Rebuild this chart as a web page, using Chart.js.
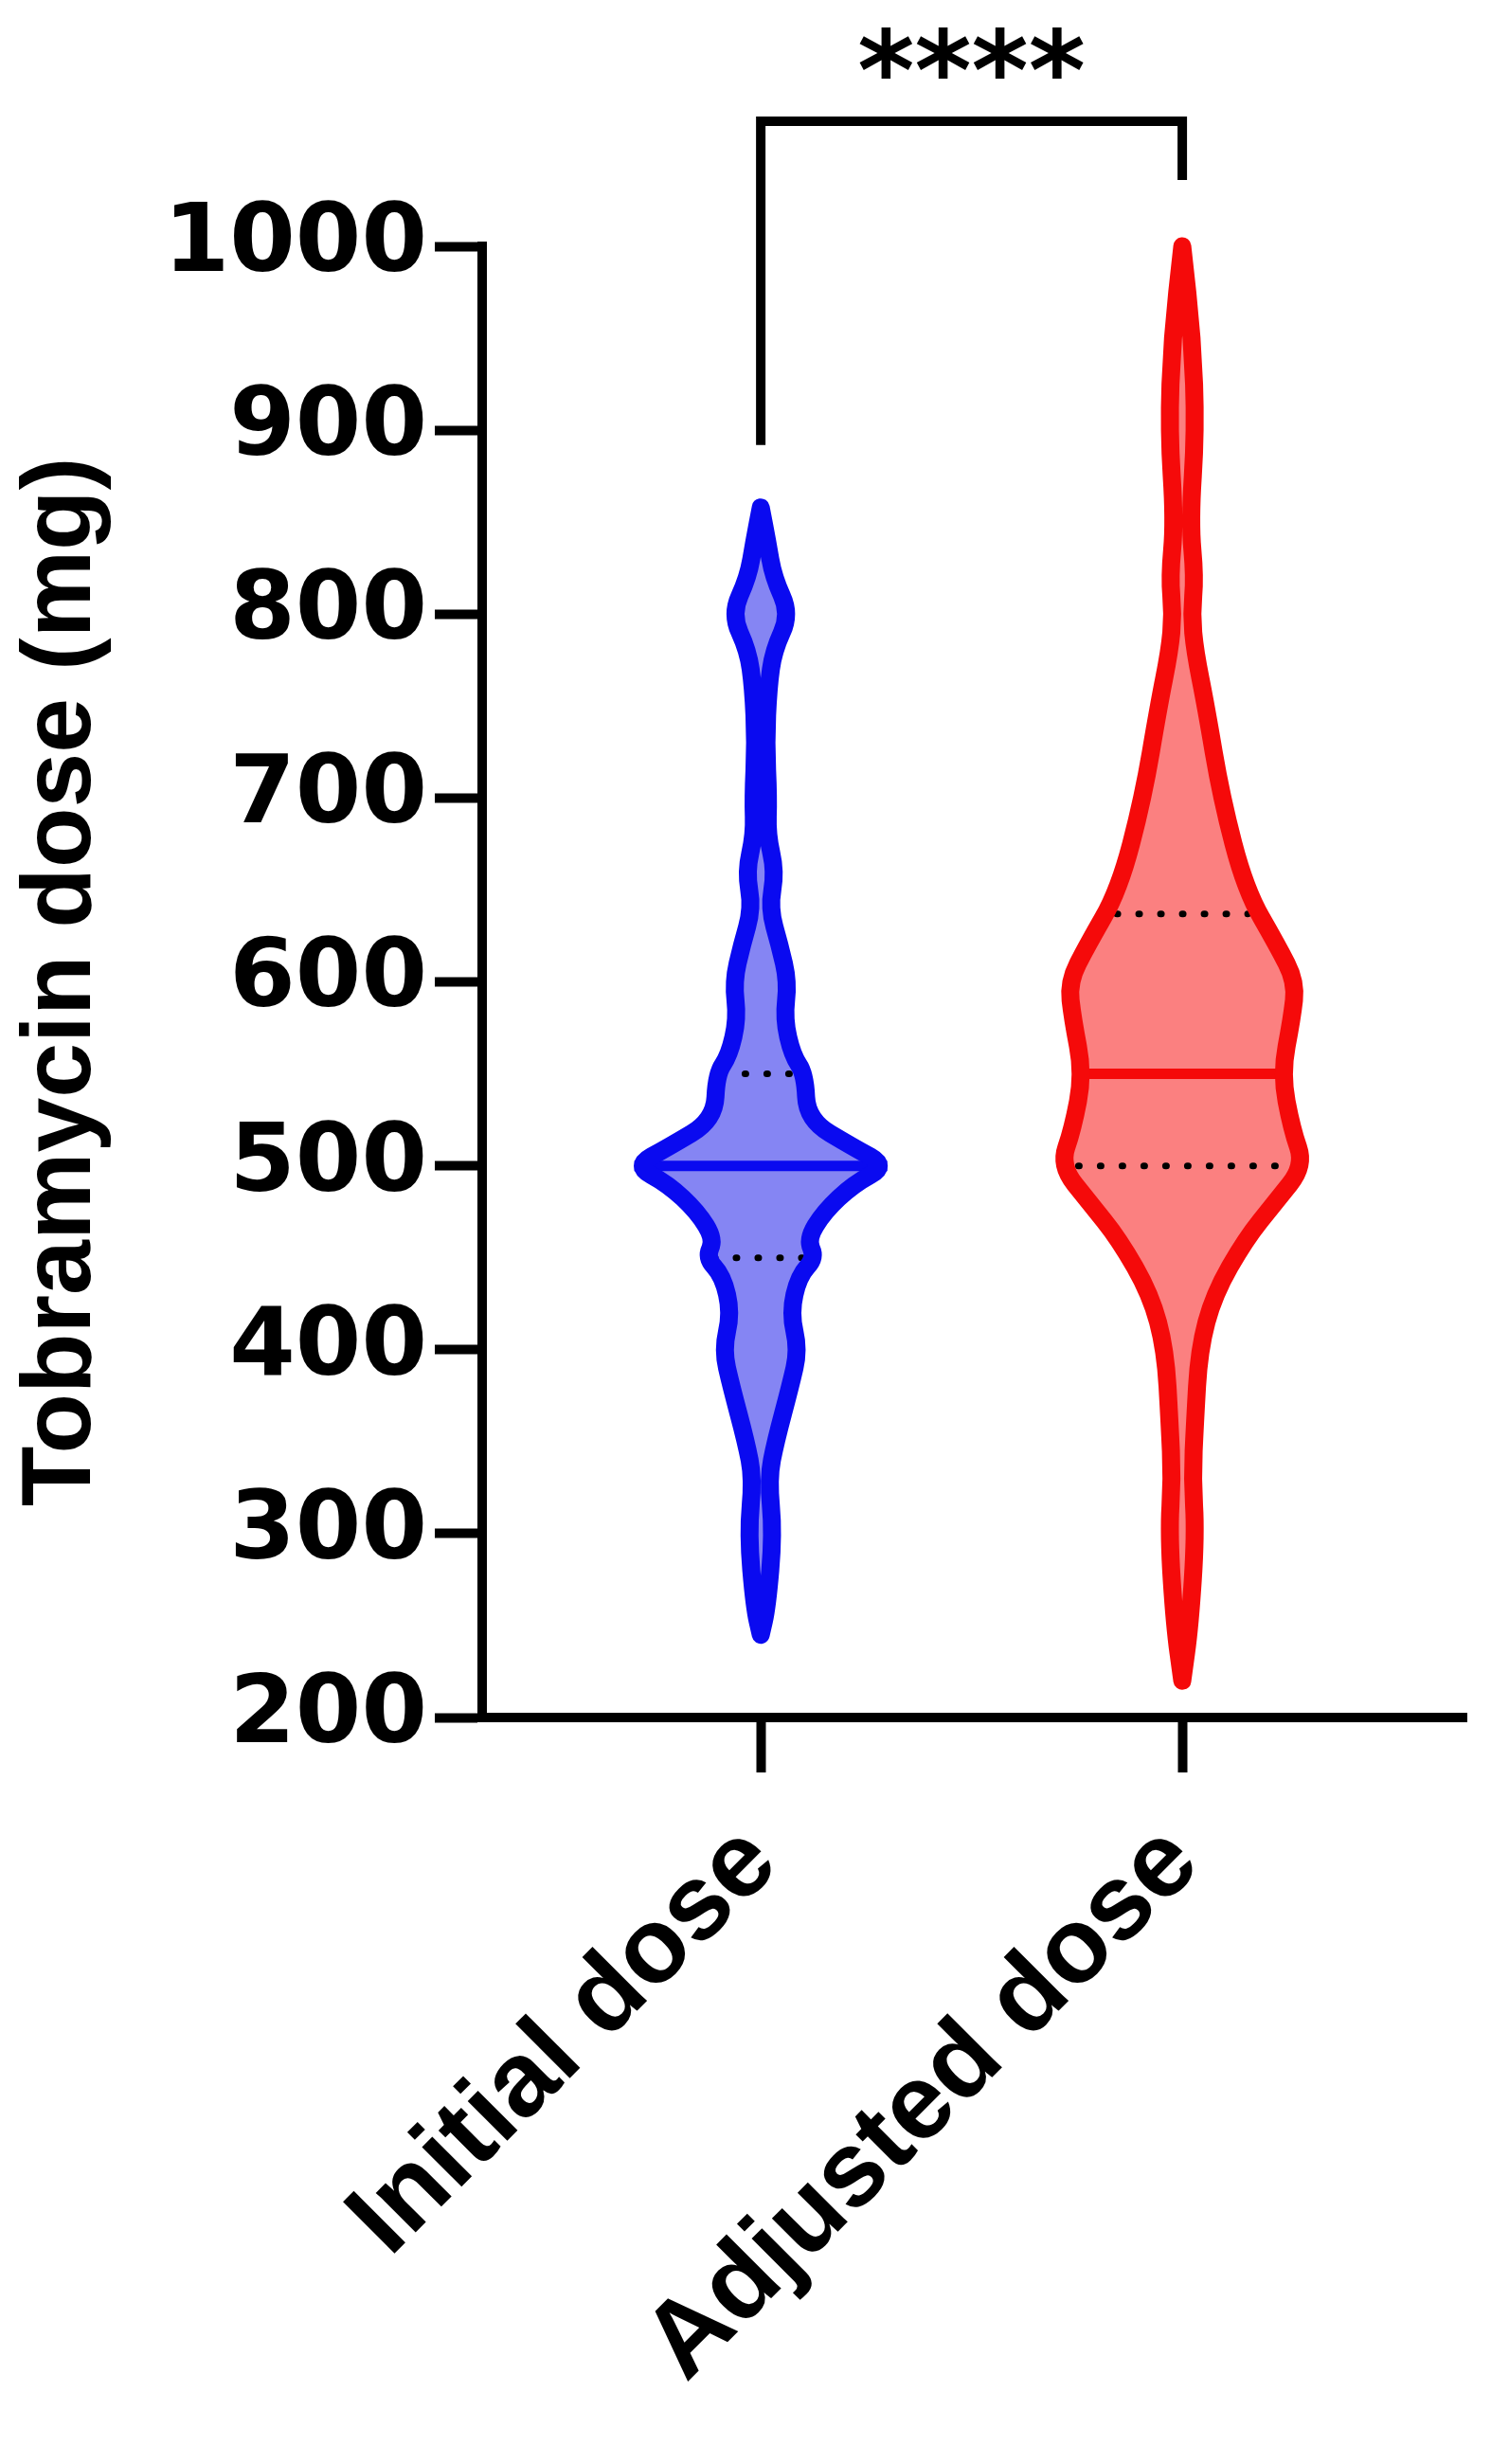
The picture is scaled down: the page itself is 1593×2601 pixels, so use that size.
<!DOCTYPE html>
<html><head><meta charset="utf-8">
<script src="https://cdn.jsdelivr.net/npm/chart.js@4"></script>
<style>html,body{margin:0;padding:0;background:#fff}#wrap{width:1593px;height:2601px}</style>
</head><body><div id="wrap"><canvas id="c"></canvas></div>
<script>
const categories = ["Initial dose", "Adjusted dose"];
const yTicks = [200,300,400,500,600,700,800,900,1000];
// violin half-widths (in x-axis units) at dose values
const initialY =     [245, 260, 300, 330, 350, 380, 400, 420, 440, 450, 460, 475, 490, 500, 510, 525, 550, 560, 580, 600, 620, 640, 660, 680, 700, 730, 760, 780, 800, 820, 840, 858];
const initialW =     [0, .015, .03, .018, .035, .07, .09, .07, .09, .13, .11, .15, .22, .30, .22, .11, .105, .075, .055, .065, .045, .02, .035, .015, .018, .012, .018, .03, .07, .03, .015, 0];
const adjustedY =    [220, 250, 300, 330, 360, 400, 430, 460, 480, 500, 520, 550, 580, 600, 620, 650, 700, 750, 780, 800, 820, 850, 900, 950, 1000];
const adjustedW =    [0, .018, .032, .024, .03, .04, .075, .15, .22, .29, .26, .235, .26, .27, .225, .15, .093, .056, .03, .022, .03, .018, .032, .024, 0];
const medians = [500, 550];
const q1 = [450, 500];
const q3 = [550, 637];
const sigText = "****";

const groups = [
  {x:1, ys:initialY, ws:initialW, stroke:'#0a0af0', fill:'#8585f3', med:medians[0], q1:q1[0], q3:q3[0]},
  {x:2, ys:adjustedY, ws:adjustedW, stroke:'#f50a0a', fill:'#fb8080', med:medians[1], q1:q1[1], q3:q3[1]}
];
function widthAt(g, v){
  for(let i=0;i<g.ys.length-1;i++){
    if(v>=g.ys[i] && v<=g.ys[i+1]){const t=(v-g.ys[i])/(g.ys[i+1]-g.ys[i]);return g.ws[i]+t*(g.ws[i+1]-g.ws[i]);}
  }
  return 0;
}
function outline(ctx,pts){
  ctx.beginPath();
  ctx.moveTo((pts[0][0]+pts[1][0])/2,(pts[0][1]+pts[1][1])/2);
  for(let i=1;i<=pts.length;i++){
    const p=pts[i%pts.length], n=pts[(i+1)%pts.length];
    ctx.quadraticCurveTo(p[0],p[1],(p[0]+n[0])/2,(p[1]+n[1])/2);
  }
  ctx.closePath();
}
const violinPlugin = {
  id:'violin',
  afterDatasetsDraw(chart){
    const ctx=chart.ctx, xs=chart.scales.x, ys=chart.scales.y;
    ctx.save();
    groups.forEach(g=>{
      const pts=[];
      for(let i=0;i<g.ys.length;i++) pts.push([xs.getPixelForValue(g.x+g.ws[i]), ys.getPixelForValue(g.ys[i])]);
      for(let i=g.ys.length-1;i>=0;i--) pts.push([xs.getPixelForValue(g.x-g.ws[i]), ys.getPixelForValue(g.ys[i])]);
      outline(ctx,pts);
      ctx.fillStyle=g.fill; ctx.fill();
      const wm=widthAt(g,g.med);
      ctx.beginPath();
      ctx.moveTo(xs.getPixelForValue(g.x-wm),ys.getPixelForValue(g.med));
      ctx.lineTo(xs.getPixelForValue(g.x+wm),ys.getPixelForValue(g.med));
      ctx.strokeStyle=g.stroke; ctx.lineWidth=11; ctx.setLineDash([]); ctx.stroke();
      [g.q1,g.q3].forEach(q=>{
        const w=widthAt(g,q)*0.85;
        ctx.beginPath();
        ctx.moveTo(xs.getPixelForValue(g.x-w),ys.getPixelForValue(q));
        ctx.lineTo(xs.getPixelForValue(g.x+w),ys.getPixelForValue(q));
        ctx.strokeStyle='#000'; ctx.lineWidth=7; ctx.lineCap='round'; ctx.setLineDash([1,22]); ctx.stroke();
      });
      ctx.setLineDash([]); ctx.lineCap='round';
      outline(ctx,pts);
      ctx.strokeStyle=g.stroke; ctx.lineWidth=19; ctx.lineJoin='round'; ctx.stroke();
    });
    const xl=xs.getPixelForValue(1), xr=xs.getPixelForValue(2);
    ctx.beginPath();
    ctx.moveTo(xl,ys.getPixelForValue(892));
    ctx.lineTo(xl,ys.getPixelForValue(1068));
    ctx.lineTo(xr,ys.getPixelForValue(1068));
    ctx.lineTo(xr,ys.getPixelForValue(1036));
    ctx.strokeStyle='#000'; ctx.lineWidth=10; ctx.lineCap='butt'; ctx.lineJoin='miter'; ctx.stroke();
    ctx.fillStyle='#000'; ctx.font='bold 115px "DejaVu Sans"'; ctx.textAlign='center'; ctx.textBaseline='middle';
    ctx.fillText(sigText,(xl+xr)/2,ys.getPixelForValue(1090));
    ctx.restore();
  }
};
new Chart(document.getElementById('c'),{
  type:'scatter',
  data:{datasets:[{data:groups.map(g=>({x:g.x,y:g.med})),pointRadius:0}]},
  options:{
    responsive:true, maintainAspectRatio:false, animation:false,
    layout:{padding:{top:260,right:45,left:0,bottom:0}},
    plugins:{legend:{display:false},tooltip:{enabled:false}},
    scales:{
      x:{type:'linear',min:0.339,max:2.674,
        afterBuildTicks(s){s.ticks=[{value:1},{value:2}];},
        afterFit(s){s.height=788;},
        ticks:{callback:v=>categories[v-1],minRotation:45,maxRotation:45,color:'#000',
          font:{family:'Liberation Sans',weight:'bold',size:112},padding:30},
        grid:{drawOnChartArea:false,tickLength:58,tickWidth:10,color:'#000'},
        border:{color:'#000',width:10}},
      y:{min:200,max:1000,
        afterBuildTicks(s){s.ticks=yTicks.map(v=>({value:v}));},
        afterFit(s){s.width=509;},
        ticks:{callback:v=>String(v),color:'#000',font:{family:'DejaVu Sans',weight:'bold',size:100},padding:8},
        grid:{drawOnChartArea:false,tickLength:50,tickWidth:10,color:'#000'},
        border:{color:'#000',width:10},
        title:{display:true,text:'Tobramycin dose (mg)',color:'#000',font:{family:'Liberation Sans',weight:'bold',size:104},padding:{bottom:10}}}
    }
  },
  plugins:[violinPlugin]
});
</script></body></html>
